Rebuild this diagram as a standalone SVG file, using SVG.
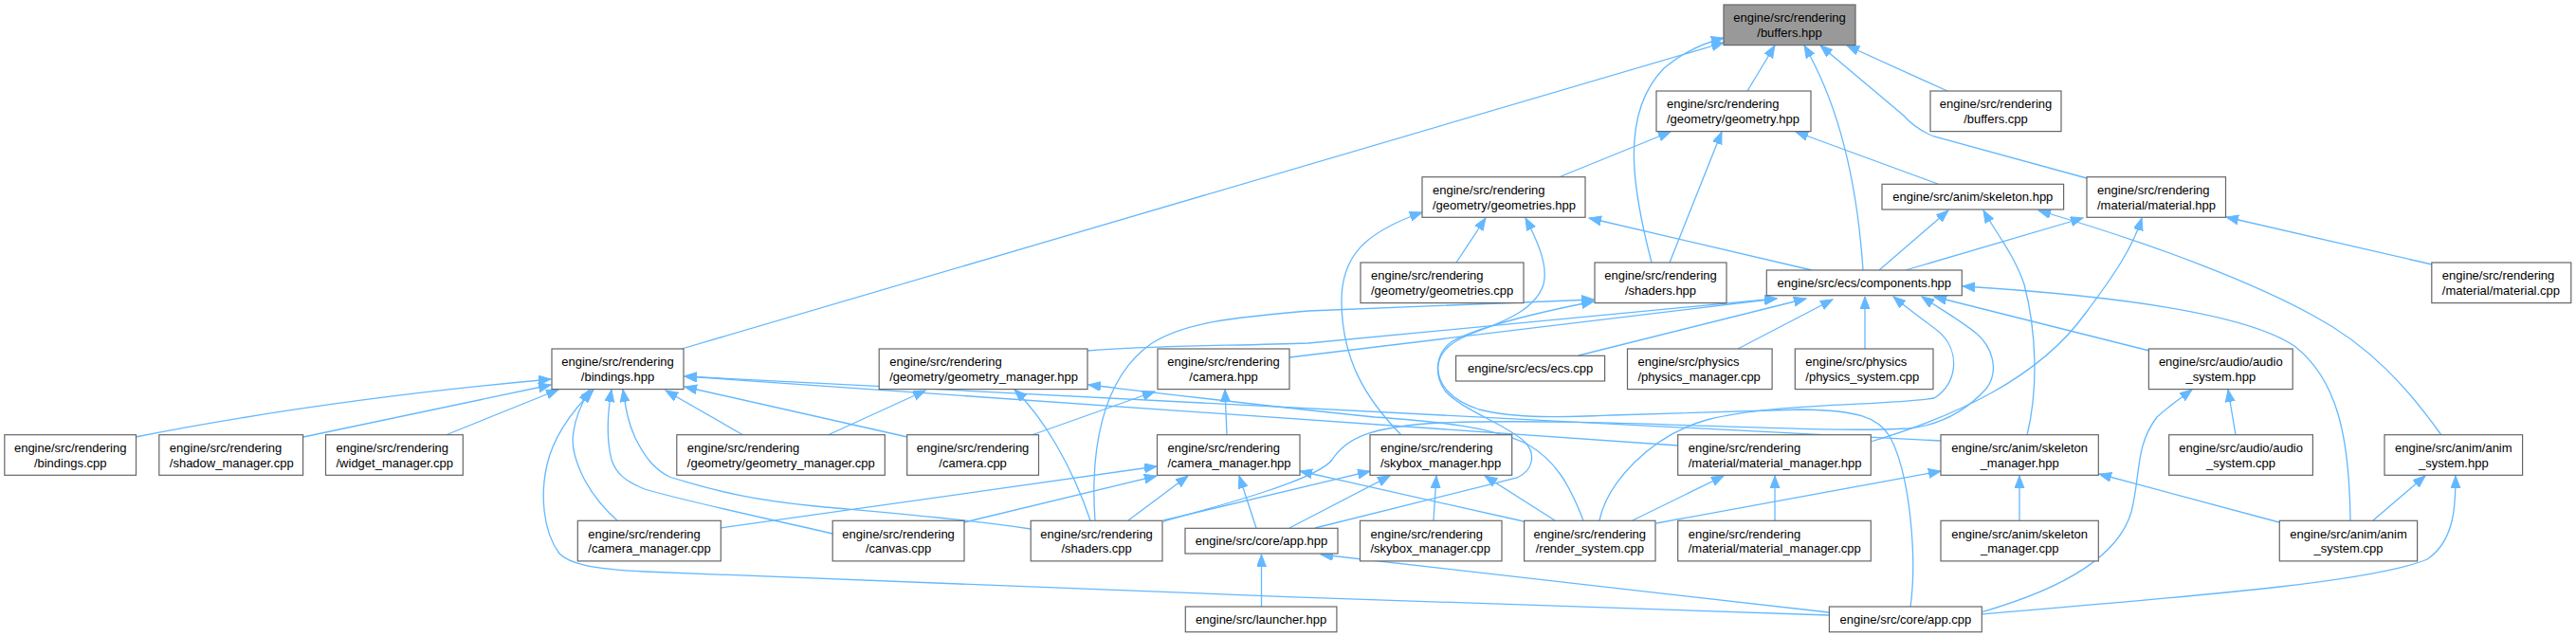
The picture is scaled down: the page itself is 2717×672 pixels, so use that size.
<svg xmlns="http://www.w3.org/2000/svg" width="2717" height="672" viewBox="0 0 2717 672">
<defs>
<style>
.n rect{fill:#ffffff;stroke:#666666;stroke-width:1.2}
.root rect{fill:#999999}
text{font-family:"Liberation Sans",Arial,Helvetica,sans-serif;font-size:13px;fill:#000000}
.c{text-anchor:middle}
.e path{fill:none;stroke:#63b8ff;stroke-width:1.3;marker-end:url(#a)}
</style>
<marker id="a" markerWidth="14" markerHeight="11" refX="13" refY="5" orient="auto" markerUnits="userSpaceOnUse"><path d="M0,0 L13,5 L0,10 z" fill="#63b8ff" stroke="#63b8ff" stroke-width="1"/></marker>
</defs>
<rect width="2717" height="672" fill="#ffffff"/>
<g id="edges" class="e">
<path d="M1843,96 L1872,48"/>
<path d="M2054,96 L1948,48"/>
<path d="M719,368 L1818,45"/>
<path d="M1742,277 C1722,200 1708,120 1755,72 C1775,55 1795,46 1818,40"/>
<path d="M1965,285 C1960,210 1945,120 1903,48"/>
<path d="M2201,188 L2040,144 C2025,138 2015,130 2008,122 L1920,48"/>
<path d="M1644,187 L1762,139"/>
<path d="M1761,277 L1816,139"/>
<path d="M2044,194 L1894,139"/>
<path d="M1536,277 L1567,230"/>
<path d="M1911,285 L1676,230"/>
<path d="M1478,459 C1440,420 1416,380 1415,320 C1414,270 1440,245 1500,224"/>
<path d="M2015,640 C2022,590 2015,500 1993,460 C1980,440 1960,433 1900,432 L1700,438 C1650,440 1600,442 1560,432 C1530,422 1515,405 1517,385 C1519,368 1535,358 1560,349 C1590,338 1620,325 1628,300 C1633,280 1622,255 1609,230"/>
<path d="M1147,370 C1220,364 1300,365 1380,362 L1874,315"/>
<path d="M1360,377 L1874,315"/>
<path d="M1665,375 L1905,315"/>
<path d="M1833,368 L1933,316"/>
<path d="M1967,368 L1967,313"/>
<path d="M2267,370 L2040,313"/>
<path d="M2479,549 C2478,460 2465,400 2420,365 C2380,338 2280,315 2070,302"/>
<path d="M1687,549 C1695,510 1740,460 1800,443 C1870,425 1990,428 2040,420 C2065,405 2068,370 2045,350 C2030,338 2015,328 1997,313"/>
<path d="M1227,550 C1300,530 1390,505 1405,485 C1420,462 1445,450 1520,446 C1700,440 1900,458 2013,452 C2050,448 2075,432 2095,410 C2110,390 2100,365 2085,352 C2065,336 2045,325 2027,313"/>
<path d="M957,461 L722,408"/>
<path d="M1088,459 L1218,413"/>
<path d="M1294,459 L1292,411"/>
<path d="M784,459 L702,412"/>
<path d="M873,459 L976,412"/>
<path d="M1150,549 C1130,490 1100,440 1070,411"/>
<path d="M1670,549 C1655,510 1640,485 1610,468 C1570,450 1520,445 1450,440 C1350,430 1250,418 1148,406"/>
<path d="M143,461 C300,430 450,412 581,400"/>
<path d="M320,461 L581,406"/>
<path d="M470,459 L589,411"/>
<path d="M651,549 C618,520 600,480 605,455 C607,440 612,428 622,411"/>
<path d="M1929,649 C1600,640 900,612 680,603 C620,600 600,594 590,584 C572,560 570,520 577,490 C584,460 605,432 626,411"/>
<path d="M878,563 C800,545 720,528 680,516 C660,508 650,500 645,485 C640,465 640,440 645,411"/>
<path d="M1087,558 C1000,545 900,538 860,534 C800,528 760,520 706,503 C690,495 680,482 670,462 C662,445 660,430 657,411"/>
<path d="M1770,470 L722,397"/>
<path d="M2047,465 L722,397"/>
<path d="M760,557 L1220,492"/>
<path d="M1017,551 L1220,502"/>
<path d="M1190,549 L1253,502"/>
<path d="M1325,557 L1307,502"/>
<path d="M1607,550 L1371,497"/>
<path d="M1330.5,640 L1330.5,585"/>
<path d="M1929,646 L1393,585"/>
<path d="M1360,557 L1466,502"/>
<path d="M1227,549 L1445,497"/>
<path d="M1512,549 L1515,502"/>
<path d="M1640,549 L1566,502"/>
<path d="M1722,549 L1818,502"/>
<path d="M1872,549 L1872,502"/>
<path d="M1747,552 L2047,497"/>
<path d="M2130,549 L2130,502"/>
<path d="M2404,551 L2214,500"/>
<path d="M2358,459 L2350,411"/>
<path d="M2089,646 C2180,620 2235,585 2248,540 C2258,500 2252,470 2275,440 C2288,428 2300,420 2312,411"/>
<path d="M2503,549 L2558,502"/>
<path d="M2089,648 C2300,630 2500,615 2560,590 C2590,570 2590,530 2590,502"/>
<path d="M2575,459 C2540,410 2500,365 2440,333 C2380,300 2280,260 2150,222"/>
<path d="M2138,459 C2150,410 2148,350 2135,300 C2125,270 2105,245 2092,222"/>
<path d="M1982,285 L2055,222"/>
<path d="M2010,285 L2197,230"/>
<path d="M1973,466 C2060,440 2150,400 2200,330 C2230,290 2250,260 2259,230"/>
<path d="M2565,279 L2348,229"/>
<path d="M1387,557 L1600,504 C1618,496 1620,478 1608,466 C1590,448 1540,432 1524,412 C1512,395 1514,372 1532,360 C1560,345 1620,330 1681,318"/>
<path d="M1155,549 C1150,480 1160,400 1215,362 C1250,340 1300,335 1380,328 L1681,316"/>
</g>
<g id="buffers_hpp" class="n root"><rect x="1818" y="5" width="139" height="42.6"/><text class="c" x="1887.5" y="23.3">engine/src/rendering</text><text class="c" x="1887.5" y="39">/buffers.hpp</text></g>
<g id="geometry_hpp" class="n"><rect x="1747" y="96" width="163" height="42.6"/><text x="1758" y="114.3">engine/src/rendering</text><text x="1758" y="130">/geometry/geometry.hpp</text></g>
<g id="buffers_cpp" class="n"><rect x="2036" y="96" width="138" height="42.6"/><text class="c" x="2105" y="114.3">engine/src/rendering</text><text class="c" x="2105" y="130">/buffers.cpp</text></g>
<g id="geometries_hpp" class="n"><rect x="1500" y="186.7" width="172" height="42.6"/><text x="1511" y="205">engine/src/rendering</text><text x="1511" y="220.7">/geometry/geometries.hpp</text></g>
<g id="skeleton_hpp" class="n"><rect x="1985" y="194.3" width="191.6" height="26.7"/><text class="c" x="2080.8" y="212.3">engine/src/anim/skeleton.hpp</text></g>
<g id="material_hpp" class="n"><rect x="2201" y="186.7" width="146.5" height="42.6"/><text x="2212" y="205">engine/src/rendering</text><text x="2212" y="220.7">/material/material.hpp</text></g>
<g id="geometries_cpp" class="n"><rect x="1435" y="277" width="172" height="42.6"/><text x="1446" y="295.3">engine/src/rendering</text><text x="1446" y="311">/geometry/geometries.cpp</text></g>
<g id="shaders_hpp" class="n"><rect x="1682" y="277" width="139" height="42.6"/><text class="c" x="1751.5" y="295.3">engine/src/rendering</text><text class="c" x="1751.5" y="311">/shaders.hpp</text></g>
<g id="components_hpp" class="n"><rect x="1863.3" y="285" width="206" height="26.7"/><text class="c" x="1966.3" y="303">engine/src/ecs/components.hpp</text></g>
<g id="material_cpp" class="n"><rect x="2564.8" y="277" width="147" height="42.6"/><text x="2575.8" y="295.3">engine/src/rendering</text><text x="2575.8" y="311">/material/material.cpp</text></g>
<g id="bindings_hpp" class="n"><rect x="582" y="368" width="139" height="42.6"/><text class="c" x="651.5" y="386.3">engine/src/rendering</text><text class="c" x="651.5" y="402">/bindings.hpp</text></g>
<g id="geometry_manager_hpp" class="n"><rect x="927.2" y="368" width="219.8" height="42.6"/><text x="938.2" y="386.3">engine/src/rendering</text><text x="938.2" y="402">/geometry/geometry_manager.hpp</text></g>
<g id="camera_hpp" class="n"><rect x="1221" y="368" width="139" height="42.6"/><text class="c" x="1290.5" y="386.3">engine/src/rendering</text><text class="c" x="1290.5" y="402">/camera.hpp</text></g>
<g id="ecs_cpp" class="n"><rect x="1535.6" y="375.3" width="157" height="26.7"/><text class="c" x="1614.1" y="393.3">engine/src/ecs/ecs.cpp</text></g>
<g id="physics_manager_cpp" class="n"><rect x="1716.5" y="368" width="152.6" height="42.6"/><text x="1727.5" y="386.3">engine/src/physics</text><text x="1727.5" y="402">/physics_manager.cpp</text></g>
<g id="physics_system_cpp" class="n"><rect x="1893.3" y="368" width="145.7" height="42.6"/><text x="1904.3" y="386.3">engine/src/physics</text><text x="1904.3" y="402">/physics_system.cpp</text></g>
<g id="audio_system_hpp" class="n"><rect x="2266.4" y="368" width="151.8" height="42.6"/><text class="c" x="2342.3" y="386.3">engine/src/audio/audio</text><text class="c" x="2342.3" y="402">_system.hpp</text></g>
<g id="bindings_cpp" class="n"><rect x="4.8" y="458.7" width="138.7" height="42.6"/><text class="c" x="74.2" y="477">engine/src/rendering</text><text class="c" x="74.2" y="492.7">/bindings.cpp</text></g>
<g id="shadow_manager_cpp" class="n"><rect x="167.8" y="458.7" width="151.8" height="42.6"/><text x="178.8" y="477">engine/src/rendering</text><text x="178.8" y="492.7">/shadow_manager.cpp</text></g>
<g id="widget_manager_cpp" class="n"><rect x="343.5" y="458.7" width="144.8" height="42.6"/><text x="354.5" y="477">engine/src/rendering</text><text x="354.5" y="492.7">/widget_manager.cpp</text></g>
<g id="geometry_manager_cpp" class="n"><rect x="713.8" y="458.7" width="219.5" height="42.6"/><text x="724.8" y="477">engine/src/rendering</text><text x="724.8" y="492.7">/geometry/geometry_manager.cpp</text></g>
<g id="camera_cpp" class="n"><rect x="956.7" y="458.7" width="138.8" height="42.6"/><text class="c" x="1026.1" y="477">engine/src/rendering</text><text class="c" x="1026.1" y="492.7">/camera.cpp</text></g>
<g id="camera_manager_hpp" class="n"><rect x="1220.5" y="458.7" width="150.5" height="42.6"/><text x="1231.5" y="477">engine/src/rendering</text><text x="1231.5" y="492.7">/camera_manager.hpp</text></g>
<g id="skybox_manager_hpp" class="n"><rect x="1445" y="458.7" width="149.7" height="42.6"/><text x="1456" y="477">engine/src/rendering</text><text x="1456" y="492.7">/skybox_manager.hpp</text></g>
<g id="material_manager_hpp" class="n"><rect x="1769.7" y="458.7" width="203.6" height="42.6"/><text x="1780.7" y="477">engine/src/rendering</text><text x="1780.7" y="492.7">/material/material_manager.hpp</text></g>
<g id="skeleton_manager_hpp" class="n"><rect x="2047" y="458.7" width="166.3" height="42.6"/><text class="c" x="2130.2" y="477">engine/src/anim/skeleton</text><text class="c" x="2130.2" y="492.7">_manager.hpp</text></g>
<g id="audio_system_cpp" class="n"><rect x="2287.7" y="458.7" width="151.7" height="42.6"/><text class="c" x="2363.6" y="477">engine/src/audio/audio</text><text class="c" x="2363.6" y="492.7">_system.cpp</text></g>
<g id="anim_system_hpp" class="n"><rect x="2515" y="458.7" width="145.6" height="42.6"/><text class="c" x="2587.8" y="477">engine/src/anim/anim</text><text class="c" x="2587.8" y="492.7">_system.hpp</text></g>
<g id="camera_manager_cpp" class="n"><rect x="609.3" y="549.3" width="151" height="42.6"/><text x="620.3" y="567.6">engine/src/rendering</text><text x="620.3" y="583.3">/camera_manager.cpp</text></g>
<g id="canvas_cpp" class="n"><rect x="878.2" y="549.3" width="138.8" height="42.6"/><text class="c" x="947.6" y="567.6">engine/src/rendering</text><text class="c" x="947.6" y="583.3">/canvas.cpp</text></g>
<g id="shaders_cpp" class="n"><rect x="1087.2" y="549.3" width="138.8" height="42.6"/><text class="c" x="1156.6" y="567.6">engine/src/rendering</text><text class="c" x="1156.6" y="583.3">/shaders.cpp</text></g>
<g id="app_hpp" class="n"><rect x="1250" y="557.3" width="161" height="26.7"/><text class="c" x="1330.5" y="575.3">engine/src/core/app.hpp</text></g>
<g id="skybox_manager_cpp" class="n"><rect x="1434.5" y="549.3" width="149.5" height="42.6"/><text x="1445.5" y="567.6">engine/src/rendering</text><text x="1445.5" y="583.3">/skybox_manager.cpp</text></g>
<g id="render_system_cpp" class="n"><rect x="1607.6" y="549.3" width="138.4" height="42.6"/><text class="c" x="1676.8" y="567.6">engine/src/rendering</text><text class="c" x="1676.8" y="583.3">/render_system.cpp</text></g>
<g id="material_manager_cpp" class="n"><rect x="1769.7" y="549.3" width="203.6" height="42.6"/><text x="1780.7" y="567.6">engine/src/rendering</text><text x="1780.7" y="583.3">/material/material_manager.cpp</text></g>
<g id="skeleton_manager_cpp" class="n"><rect x="2047" y="549.3" width="166.3" height="42.6"/><text class="c" x="2130.2" y="567.6">engine/src/anim/skeleton</text><text class="c" x="2130.2" y="583.3">_manager.cpp</text></g>
<g id="anim_system_cpp" class="n"><rect x="2404.3" y="549.3" width="145.3" height="42.6"/><text class="c" x="2477" y="567.6">engine/src/anim/anim</text><text class="c" x="2477" y="583.3">_system.cpp</text></g>
<g id="launcher_hpp" class="n"><rect x="1250.3" y="640" width="159.6" height="26.7"/><text class="c" x="1330.1" y="658">engine/src/launcher.hpp</text></g>
<g id="app_cpp" class="n"><rect x="1929.4" y="640" width="160.9" height="26.7"/><text class="c" x="2009.9" y="658">engine/src/core/app.cpp</text></g>
</svg>
